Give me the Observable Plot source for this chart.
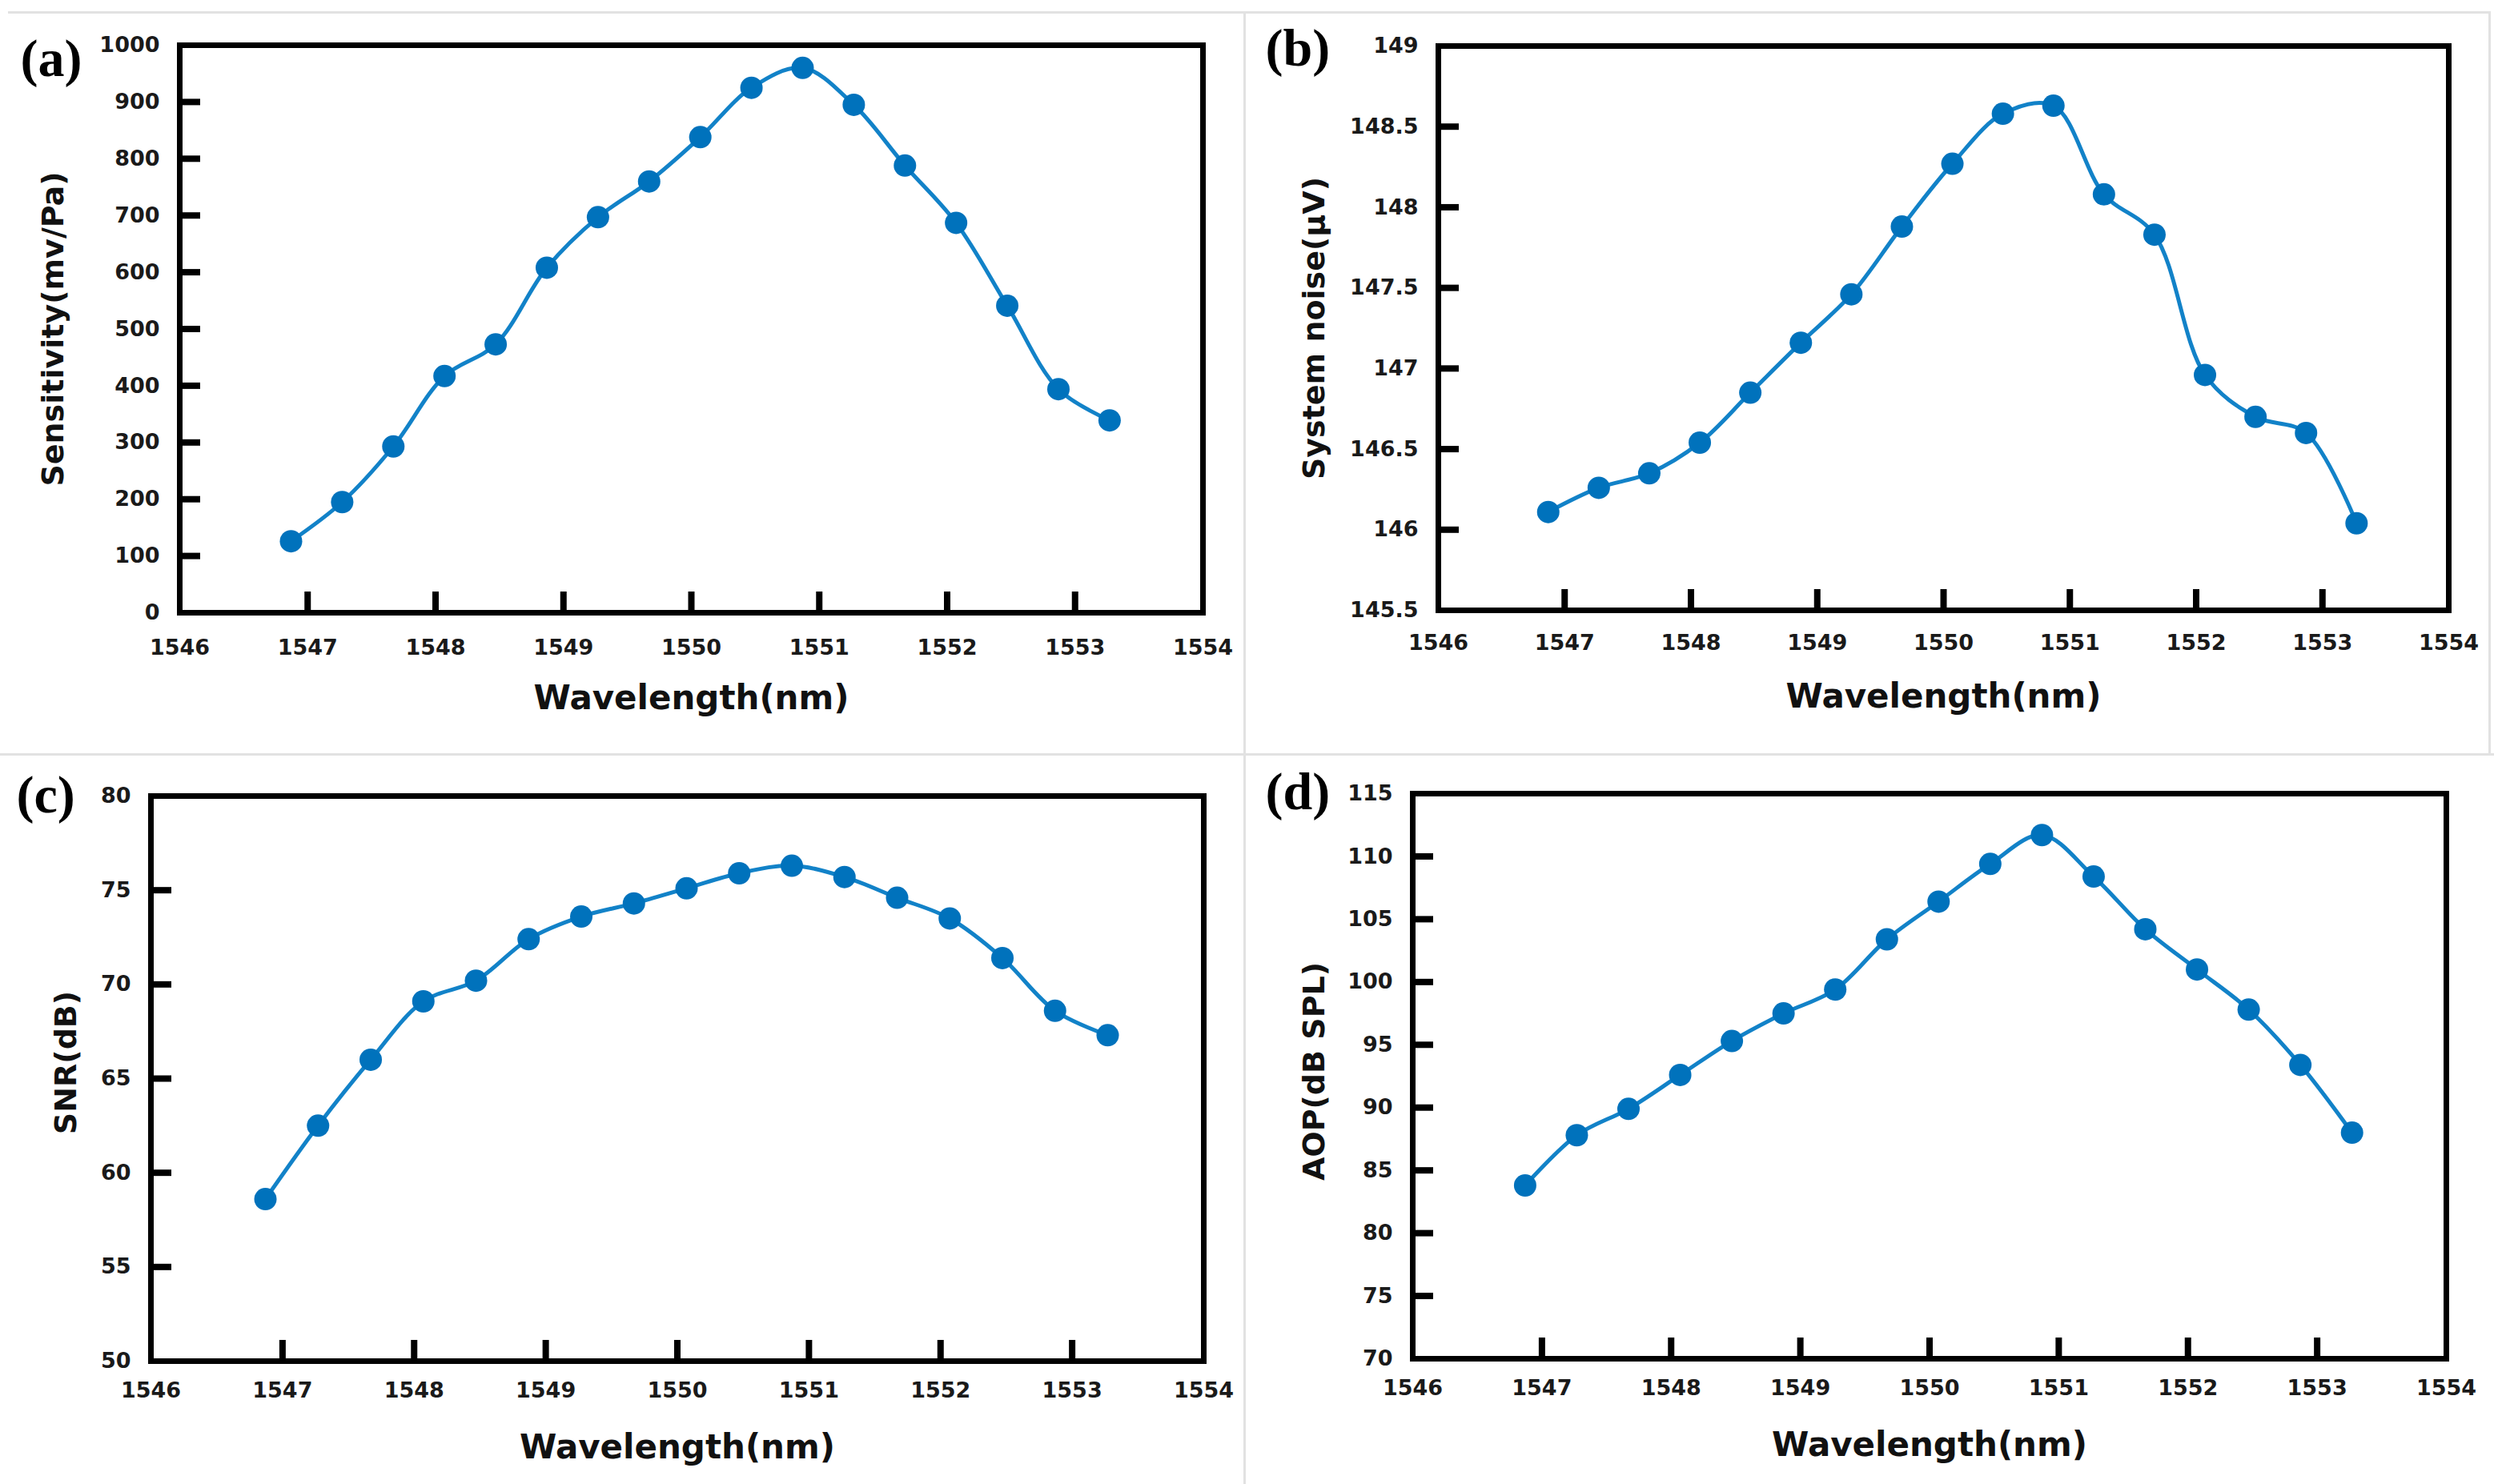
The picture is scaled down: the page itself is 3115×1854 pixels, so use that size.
<!DOCTYPE html>
<html>
<head>
<meta charset="utf-8">
<script src="https://cdn.jsdelivr.net/npm/d3@7"></script>
<script src="https://cdn.jsdelivr.net/npm/@observablehq/plot@0.6"></script>
<style>
  html, body { margin: 0; padding: 0; background: #ffffff; }
  #fig { position: relative; width: 3115px; height: 1854px; overflow: hidden; background: #ffffff; }
  .panel { position: absolute; }
  .sep { position: absolute; background: #e2e2e2; }
</style>
</head>
<body>
<div id="fig">
  <div class="sep" style="left:10px; top:14px; width:3100px; height:3px;"></div>
  <div class="sep" style="left:1553px; top:14px; width:3px; height:1840px;"></div>
  <div class="sep" style="left:3108px; top:14px; width:3px; height:928px;"></div>
  <div class="sep" style="left:0px; top:941px; width:3115px; height:3px;"></div>
</div>
<script>
// ---- data ----
const wavelength = [1546.87, 1547.27, 1547.67, 1548.07, 1548.47, 1548.87, 1549.27, 1549.67, 1550.07,
                    1550.47, 1550.87, 1551.27, 1551.67, 1552.07, 1552.47, 1552.87, 1553.27];
const sensitivity = [126, 195, 293, 417, 473, 608, 697, 760, 838, 925, 960, 895, 788, 687, 541, 394, 339];
const systemNoise = [146.11, 146.26, 146.35, 146.54, 146.85, 147.16, 147.46, 147.88, 148.27,
                     148.58, 148.63, 148.08, 147.83, 146.96, 146.70, 146.60, 146.04];
const snr = [58.6, 62.5, 66.0, 69.1, 70.2, 72.4, 73.6, 74.3, 75.1, 75.9, 76.3, 75.7, 74.6, 73.5, 71.4, 68.6, 67.3];
const aop = [83.8, 87.8, 89.9, 92.6, 95.3, 97.5, 99.4, 103.4, 106.4, 109.4, 111.7, 108.4, 104.2, 101.0, 97.8, 93.4, 88.0];

const xTicks = [1546, 1547, 1548, 1549, 1550, 1551, 1552, 1553, 1554];
const ticksA = [0, 100, 200, 300, 400, 500, 600, 700, 800, 900, 1000];
const ticksB = [145.5, 146, 146.5, 147, 147.5, 148, 148.5, 149];
const ticksC = [50, 55, 60, 65, 70, 75, 80];
const ticksD = [70, 75, 80, 85, 90, 95, 100, 105, 110, 115];

const xLabel = "Wavelength(nm)";
const panels = [
  {tag: "(a)", ylabel: "Sensitivity(mv/Pa)", values: sensitivity, ticks: ticksA,
   left: 0, top: 0, width: 1553, height: 944, ml: 224, mr: 51, mt: 56, mb: 179,
   tagDx: -199, tagDy: -8, yDx: -158, yDy: 0, tickPad: 33, xDy: 91},
  {tag: "(b)", ylabel: "System noise(μV)", values: systemNoise, ticks: ticksB,
   left: 1553, top: 0, width: 1562, height: 944, ml: 243, mr: 57, mt: 57, mb: 182,
   tagDx: -216, tagDy: -22, yDx: -155, yDy: 0, tickPad: 30, xDy: 92},
  {tag: "(c)", ylabel: "SNR(dB)", values: snr, ticks: ticksC,
   left: 0, top: 944, width: 1553, height: 910, ml: 188, mr: 50, mt: 50, mb: 154,
   tagDx: -168, tagDy: -26, yDx: -106, yDy: -20, tickPad: 26, xDy: 92},
  {tag: "(d)", ylabel: "AOP(dB SPL)", values: aop, ticks: ticksD,
   left: 1553, top: 944, width: 1562, height: 910, ml: 211, mr: 60, mt: 47, mb: 157,
   tagDx: -184, tagDy: -27, yDx: -123, yDy: -6, tickPad: 26, xDy: 92}
];

const fmt = d => `${d}`;
const lineColor = "#1282c8";
const dotColor = "#0072bc";
const tickLen = 26;
const fig = document.getElementById("fig");

for (const p of panels) {
  const data = wavelength.map((w, i) => ({w, v: p.values[i]}));
  const yDomain = [p.ticks[0], p.ticks[p.ticks.length - 1]];
  const plotW = p.width - p.ml - p.mr;
  const plotH = p.height - p.mt - p.mb;
  const yLen = (yDomain[1] - yDomain[0]) * tickLen / plotH;   // tick length in y units
  const xLen = (1554 - 1546) * tickLen / plotW;               // tick length in x units
  const chart = Plot.plot({
    width: p.width,
    height: p.height,
    marginLeft: p.ml,
    marginRight: p.mr,
    marginTop: p.mt,
    marginBottom: p.mb,
    style: {fontFamily: "DejaVu Sans", fontWeight: "bold", fontSize: "27px", background: "transparent", overflow: "visible"},
    x: {domain: [1546, 1554]},
    y: {domain: yDomain},
    marks: [
      // inward tick marks
      Plot.ruleX(xTicks.slice(1, -1), {x: d => d, y1: yDomain[0], y2: yDomain[0] + yLen, stroke: "#000", strokeWidth: 8}),
      Plot.ruleY(p.ticks.slice(1, -1), {y: d => d, x1: 1546, x2: 1546 + xLen, stroke: "#000", strokeWidth: 8}),
      // tick labels
      Plot.axisX({ticks: xTicks, tickSize: 0, tickPadding: p.tickPad, tickFormat: fmt, label: null,
                  fontSize: 27, fontWeight: "bold", fill: "#1a1a1a"}),
      Plot.axisY({ticks: p.ticks, tickSize: 0, tickPadding: 25, tickFormat: fmt, label: null,
                  fontSize: 27, fontWeight: "bold", fill: "#1a1a1a"}),
      // data
      Plot.line(data, {x: "w", y: "v", curve: "catmull-rom", stroke: lineColor, strokeWidth: 5}),
      Plot.dot(data, {x: "w", y: "v", r: 14, fill: dotColor, stroke: "none"}),
      Plot.frame({stroke: "black", strokeWidth: 7}),
      // titles
      Plot.text([xLabel], {text: d => d, frameAnchor: "bottom", textAnchor: "middle", lineAnchor: "top", dy: p.xDy,
                           fontSize: 42, fontWeight: "bold", fill: "#111"}),
      Plot.text([p.ylabel], {text: d => d, frameAnchor: "left", textAnchor: "middle", lineAnchor: "middle",
                             rotate: -90, dx: p.yDx, dy: p.yDy,
                             fontSize: 38, fontWeight: "bold", fill: "#111"}),
      Plot.text([p.tag], {text: d => d, frameAnchor: "top-left", textAnchor: "start", lineAnchor: "top",
                          dx: p.tagDx, dy: p.tagDy, fontFamily: "Liberation Serif", fontSize: 66,
                          fontWeight: "bold", fill: "#000"})
    ]
  });
  chart.classList.add("panel");
  chart.style.left = p.left + "px";
  chart.style.top = p.top + "px";
  fig.appendChild(chart);
}
</script>
</body>
</html>
